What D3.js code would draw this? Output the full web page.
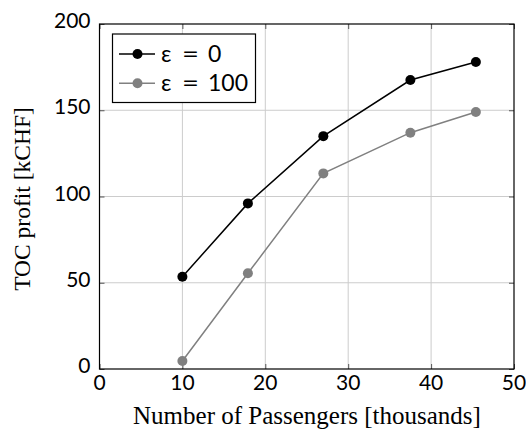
<!DOCTYPE html>
<html><head><meta charset="utf-8">
<script src="https://cdn.jsdelivr.net/npm/d3@7"></script>
<style>body{margin:0;background:#fff}svg{display:block}</style>
</head><body>
<svg id="c" width="526" height="434"></svg>
<script>
const passengers = [10, 17.9, 27, 37.5, 45.4];
const profitEps0 = [53.5, 96, 135, 167.5, 178];
const profitEps100 = [4.6, 55.5, 113.4, 137, 149];
const xTicks = [0, 10, 20, 30, 40, 50];
const yTicks = [0, 50, 100, 150, 200];
const seriesSymbol = "ε";
const seriesEps = ["0", "100"];
const seriesColors = ["#000000", "#808080"];

const svg = d3.select("#c");
const L = 99.5, R = 514, T = 24, B = 369;
const x = d3.scaleLinear().domain([0, 50]).range([L, R]);
const y = d3.scaleLinear().domain([0, 200]).range([B, T]);
const tickFont = "Lato, 'Open Sans', sans-serif";
const serif = "'Liberation Serif', 'DejaVu Serif', serif";

// grid
const g = svg.append("g");
g.selectAll(".vg").data(xTicks.slice(1, -1)).join("line")
  .attr("x1", d => x(d)).attr("x2", d => x(d)).attr("y1", T).attr("y2", B)
  .attr("stroke", "#cccccc").attr("stroke-width", 1);
g.selectAll(".hg").data(yTicks.slice(1, -1)).join("line")
  .attr("y1", d => y(d)).attr("y2", d => y(d)).attr("x1", L).attr("x2", R)
  .attr("stroke", "#cccccc").attr("stroke-width", 1);

// inner ticks via axes
const tl = 5;
svg.append("g").attr("transform", `translate(0,${B})`)
  .call(d3.axisTop(x).tickValues(xTicks).tickSize(tl).tickFormat(""))
  .call(a => a.select(".domain").remove())
  .call(a => a.selectAll("line").attr("stroke", "#555"));
svg.append("g").attr("transform", `translate(0,${T})`)
  .call(d3.axisBottom(x).tickValues(xTicks).tickSize(tl).tickFormat(""))
  .call(a => a.select(".domain").remove())
  .call(a => a.selectAll("line").attr("stroke", "#555"));
svg.append("g").attr("transform", `translate(${L},0)`)
  .call(d3.axisRight(y).tickValues(yTicks).tickSize(tl).tickFormat(""))
  .call(a => a.select(".domain").remove())
  .call(a => a.selectAll("line").attr("stroke", "#555"));
svg.append("g").attr("transform", `translate(${R},0)`)
  .call(d3.axisLeft(y).tickValues(yTicks).tickSize(tl).tickFormat(""))
  .call(a => a.select(".domain").remove())
  .call(a => a.selectAll("line").attr("stroke", "#555"));

// tick labels
svg.append("g").selectAll("text").data(xTicks).join("text")
  .attr("x", d => x(d)).attr("y", B + 21).attr("text-anchor", "middle")
  .attr("font-family", tickFont).attr("font-size", 21).text(d => d);
svg.append("g").selectAll("text").data(yTicks).join("text")
  .attr("x", L - 9).attr("y", d => y(d) + 4).attr("text-anchor", "end")
  .attr("font-family", tickFont).attr("font-size", 21).text(d => d);

// lines
const series = [profitEps0, profitEps100];
series.forEach((vals, i) => {
  const pts = passengers.map((p, j) => [p, vals[j]]);
  svg.append("path").datum(pts)
    .attr("d", d3.line().x(d => x(d[0])).y(d => y(d[1])))
    .attr("fill", "none").attr("stroke", seriesColors[i]).attr("stroke-width", 1.5);
  svg.append("g").selectAll("circle").data(pts).join("circle")
    .attr("cx", d => x(d[0])).attr("cy", d => y(d[1])).attr("r", 5)
    .attr("fill", seriesColors[i]);
});

// frame
svg.append("rect").attr("x", L).attr("y", T).attr("width", R - L).attr("height", B - T)
  .attr("fill", "none").attr("stroke", "#000").attr("stroke-width", 1.2);

// legend
const lg = svg.append("g");
lg.append("rect").attr("x", 112.5).attr("y", 34).attr("width", 143).attr("height", 68.5)
  .attr("fill", "#fff").attr("stroke", "#000").attr("stroke-width", 1.2);
seriesEps.forEach((n, i) => {
  const yy = 54 + i * 29.3;
  lg.append("line").attr("x1", 119).attr("x2", 155).attr("y1", yy).attr("y2", yy)
    .attr("stroke", seriesColors[i]).attr("stroke-width", 1.5);
  lg.append("circle").attr("cx", 137.5).attr("cy", yy).attr("r", 5).attr("fill", seriesColors[i]);
  const t = lg.append("text").attr("y", yy + 8).attr("font-family", tickFont)
    .attr("font-size", 23);
  t.append("tspan").attr("x", 161).text(seriesSymbol);
  t.append("tspan").attr("x", 182).attr("textLength", 17).attr("lengthAdjust", "spacingAndGlyphs").text("=");
  t.append("tspan").attr("x", 208).text(n);
});

// axis titles
svg.append("text").attr("x", 307).attr("y", 424).attr("text-anchor", "middle")
  .attr("font-family", serif).attr("font-size", 25).text("Number of Passengers [thousands]");
svg.append("text").attr("transform", `translate(30,199) rotate(-90)`)
  .attr("text-anchor", "middle").attr("font-family", serif).attr("font-size", 23.5)
  .text("TOC profit [kCHF]");
</script>
</body></html>
